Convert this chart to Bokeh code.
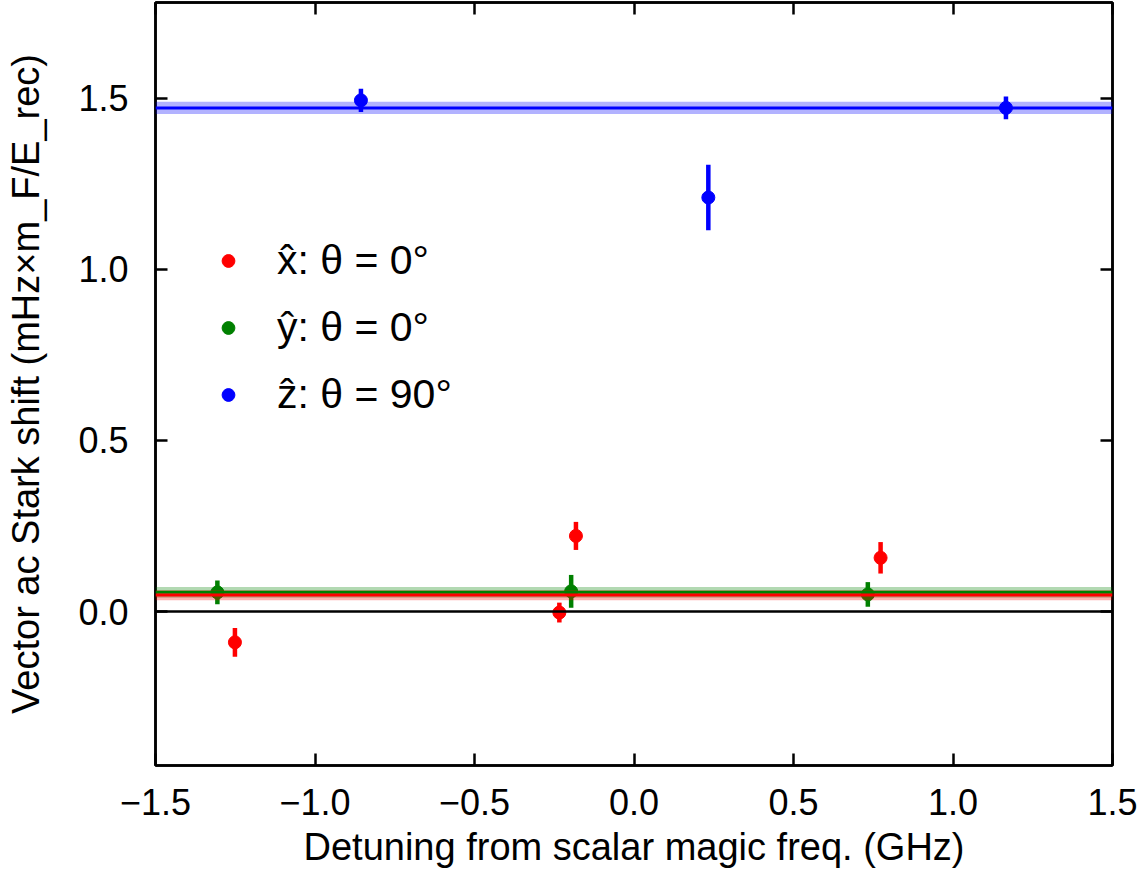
from bokeh.plotting import figure
from bokeh.models import (Range1d, LinearAxis, FixedTicker, Span, BoxAnnotation,
                          Legend, LegendItem, ColumnDataSource)
from bokeh.embed import file_html
from bokeh.resources import INLINE

# ---- data ----
x_x = [-1.251, -0.234, -0.182, 0.773]
y_x = [-0.090, -0.003, 0.221, 0.157]
e_x = [0.042, 0.029, 0.041, 0.046]

x_y = [-1.306, -0.197, 0.733]
y_y = [0.056, 0.059, 0.050]
e_y = [0.035, 0.048, 0.036]

x_z = [-0.856, 0.233, 1.166]
y_z = [1.494, 1.210, 1.472]
e_z = [0.034, 0.096, 0.033]

fit_vals = {"x": 0.048, "y": 0.056, "z": 1.472}
fit_errs = {"x": 0.015, "y": 0.016, "z": 0.018}

x_ticks = [-1.5, -1.0, -0.5, 0.0, 0.5, 1.0, 1.5]
x_tick_labels = ["\u22121.5", "\u22121.0", "\u22120.5", "0.0", "0.5", "1.0", "1.5"]
y_ticks = [0.0, 0.5, 1.0, 1.5]
y_tick_labels = ["0.0", "0.5", "1.0", "1.5"]

labels = {"x": "x\u0302: \u03b8 = 0\u00b0", "y": "y\u0302: \u03b8 = 0\u00b0", "z": "z\u0302: \u03b8 = 90\u00b0"}
colors = {"x": "#ff0000", "y": "#008000", "z": "#0000ff"}

FONT = "Liberation Sans"

p = figure(width=1148, height=888, output_backend="svg", toolbar_location=None,
           x_range=Range1d(-1.5, 1.5), y_range=Range1d(-0.45, 1.78),
           min_border_left=155, min_border_right=36, min_border_top=2, min_border_bottom=123)
p.grid.visible = False
p.outline_line_color = "black"
p.outline_line_width = 2.5
p.background_fill_color = "white"
p.border_fill_color = "white"

def style_axis(ax, ticks, labs, show_labels=True):
    ax.ticker = FixedTicker(ticks=ticks)
    ax.major_label_overrides = {t: l for t, l in zip(ticks, labs)}
    ax.major_tick_in = 12
    ax.major_tick_out = 0
    ax.major_tick_line_width = 2.5
    ax.major_tick_line_color = "black"
    ax.minor_tick_line_color = None
    ax.axis_line_color = "black"
    ax.axis_line_width = 2.5
    ax.major_label_text_font = FONT
    ax.major_label_text_font_size = "36px"
    ax.major_label_text_color = "black"
    if not show_labels:
        ax.major_label_text_font_size = "1px"
        ax.major_label_text_color = None
        ax.major_label_standoff = 0
        ax.axis_label = None

xa = p.xaxis[0]
ya = p.yaxis[0]
style_axis(xa, x_ticks, x_tick_labels)
style_axis(ya, y_ticks, y_tick_labels)
xa.major_label_standoff = 23
ya.major_label_standoff = 27
xa.axis_label = "Detuning from scalar magic freq. (GHz)"
ya.axis_label = "Vector ac Stark shift (mHz\u00d7m_F/E_rec)"
for ax in (xa, ya):
    ax.axis_label_text_font = FONT
    ax.axis_label_text_font_size = "38px"
    ax.axis_label_text_font_style = "normal"
    ax.axis_label_text_color = "black"
xa.axis_label_standoff = 8
ya.axis_label_standoff = 28

top_ax = LinearAxis()
right_ax = LinearAxis()
style_axis(top_ax, x_ticks, x_tick_labels, show_labels=False)
style_axis(right_ax, y_ticks, y_tick_labels, show_labels=False)
p.add_layout(top_ax, "above")
p.add_layout(right_ax, "right")

# zero line
p.add_layout(Span(location=0, dimension="width", line_color="black", line_width=2.5))

# fit bands and lines
for k in ["y", "x", "z"]:
    p.add_layout(BoxAnnotation(bottom=fit_vals[k] - fit_errs[k], top=fit_vals[k] + fit_errs[k],
                               fill_color=colors[k], fill_alpha=0.3, line_color=None))
for k in ["y", "x", "z"]:
    p.add_layout(Span(location=fit_vals[k], dimension="width", line_color=colors[k], line_width=3))

items = []
for k, xs, ys, es in [("x", x_x, y_x, e_x), ("y", x_y, y_y, e_y), ("z", x_z, y_z, e_z)]:
    src = ColumnDataSource(dict(x=xs, y=ys, lo=[a - b for a, b in zip(ys, es)],
                                hi=[a + b for a, b in zip(ys, es)]))
    p.segment(x0="x", y0="lo", x1="x", y1="hi", source=src, line_color=colors[k], line_width=4.5)
    r = p.scatter(x="x", y="y", source=src, size=13, fill_color=colors[k], line_color=colors[k])
    items.append(LegendItem(label=labels[k], renderers=[r]))

legend = Legend(items=items, location=(57, 337), glyph_width=32, glyph_height=67,
                label_standoff=33, padding=0, margin=0, spacing=0,
                label_text_font=FONT, label_text_font_size="41px", label_height=67,
                label_text_color="black",
                border_line_color=None, background_fill_alpha=0)
p.add_layout(legend, "center")

open("out.html", "w").write(file_html(p, INLINE))
